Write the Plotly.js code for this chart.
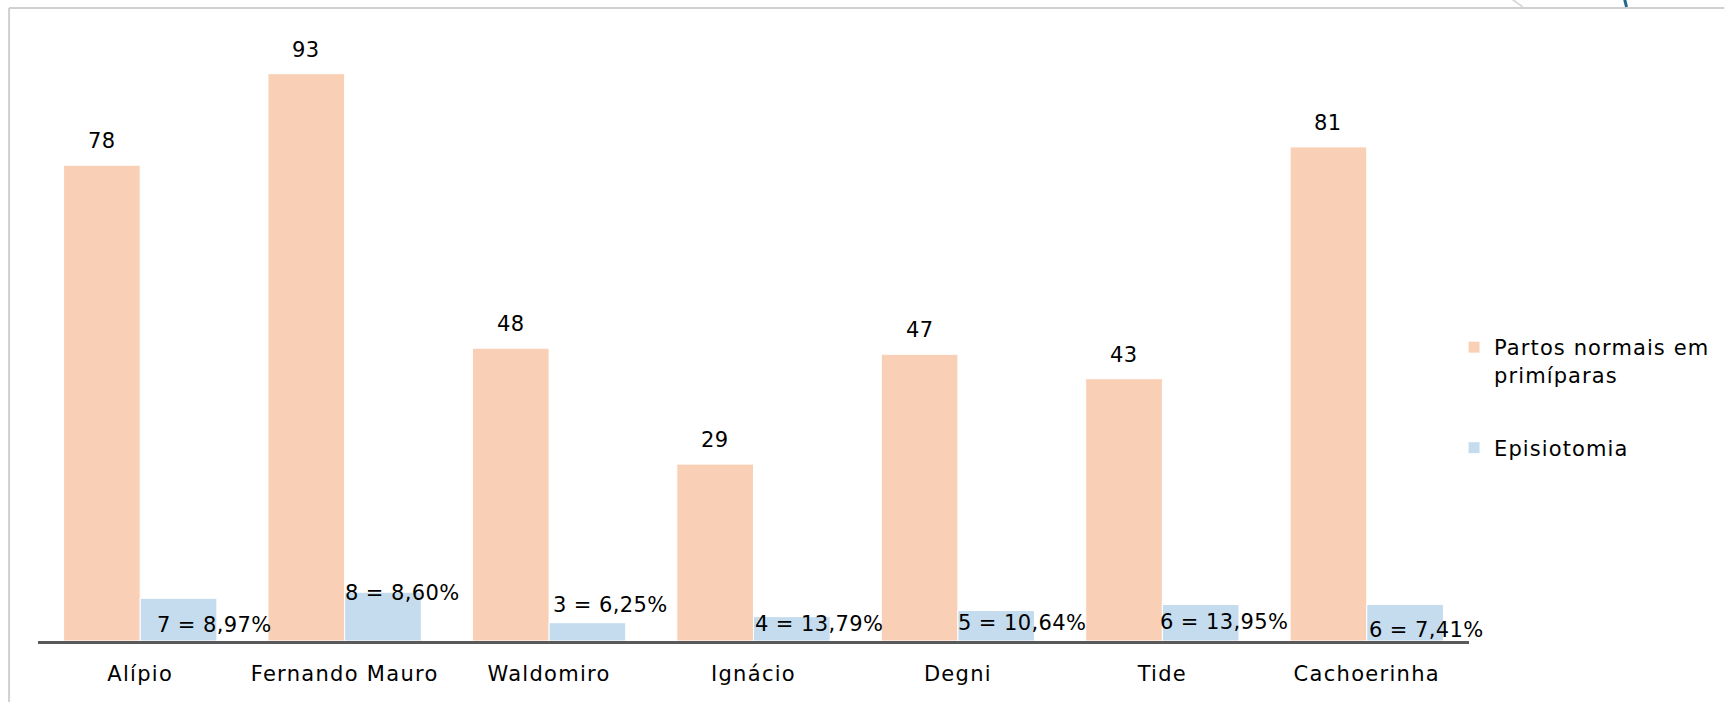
<!DOCTYPE html>
<html>
<head>
<meta charset="utf-8">
<script src="https://cdn.plot.ly/plotly-3.0.1.min.js"></script>
<style>
html,body{margin:0;padding:0;background:#fff;}
#chart{width:1727px;height:702px;}
.xtick text{letter-spacing:1.3px;}
text.legendtext{letter-spacing:1.1px;}
.annotation-text{letter-spacing:0.4px;}
</style>
</head>
<body>
<div id="chart"></div>
<script>
// ---- data ----
const categories = ['Alípio', 'Fernando Mauro', 'Waldomiro', 'Ignácio', 'Degni', 'Tide', 'Cachoerinha'];
const partosNormais = [78, 93, 48, 29, 47, 43, 81];
const episiotomia = [7, 8, 3, 4, 5, 6, 6];
const episiotomiaLabels = ['7 = 8,97%', '8 = 8,60%', '3 = 6,25%', '4 = 13,79%', '5 = 10,64%', '6 = 13,95%', '6 = 7,41%'];
const seriesNames = ['Partos normais em<br>primíparas', 'Episiotomia'];

// ---- label placement (style, px offsets from bar top / bar centre) ----
const blueLabelDx = [36, 20, 23, 27, 26, 23, 21];
const blueLabelDy = [-27, -1, 18, -7, -12, -18, -26];

const FONT = 'DejaVu Sans, Open Sans, sans-serif';
const FS = 21;
const ORANGE = '#F9D0B6';
const BLUE = '#C5DCEF';

// plot-area geometry (px) for converting decoration positions
const L = 38, R = 254, T = 31, B = 61, W = 1727, H = 702;
const pw = W - L - R, ph = H - T - B;
const px = v => (v - L) / pw;
const py = v => (H - B - v) / ph;

const traces = [
  {
    type: 'bar', name: seriesNames[0], x: categories, y: partosNormais,
    marker: {color: ORANGE, line: {color: '#ffffff', width: 1}},
    legendgroup: 'a', hoverinfo: 'x+y'
  },
  {
    type: 'bar', name: seriesNames[1], x: categories, y: episiotomia,
    marker: {color: BLUE, line: {color: '#ffffff', width: 1}},
    legendgroup: 'b', hoverinfo: 'x+y'
  }
];

const barOff = 0.1875; // half of one bar width in category units (bargap 0.25)
const annotations = [];
categories.forEach((c, i) => {
  annotations.push({
    xref: 'x', yref: 'y', x: i - barOff, y: partosNormais[i],
    text: String(partosNormais[i]), showarrow: false,
    yanchor: 'bottom', xanchor: 'center', yshift: 10,
    font: {family: FONT, size: FS, color: '#000'}
  });
  annotations.push({
    xref: 'x', yref: 'y', x: i + barOff, y: episiotomia[i],
    text: episiotomiaLabels[i], showarrow: false,
    yanchor: 'middle', xanchor: 'center',
    xshift: blueLabelDx[i], yshift: blueLabelDy[i],
    font: {family: FONT, size: FS, color: '#000'}
  });
});

const shapes = [
  // chart frame (left + top edges)
  {type: 'line', xref: 'paper', yref: 'paper', x0: px(9), x1: px(9), y0: py(8), y1: py(H + 2),
   line: {color: '#D0D0D0', width: 2}},
  {type: 'line', xref: 'paper', yref: 'paper', x0: px(9), x1: px(W + 2), y0: py(8), y1: py(8),
   line: {color: '#D0D0D0', width: 2}},
  // corner decoration
  {type: 'line', xref: 'paper', yref: 'paper', x0: px(1516), x1: px(1527), y0: py(-1), y1: py(7),
   line: {color: '#DADADA', width: 2}},
  {type: 'line', xref: 'paper', yref: 'paper', x0: px(1629), x1: px(1631), y0: py(-1), y1: py(7),
   line: {color: '#1F6A8A', width: 3}}
];

const layout = {
  width: W, height: H,
  margin: {l: L, r: R, t: T, b: B, pad: 0},
  paper_bgcolor: '#ffffff', plot_bgcolor: '#ffffff',
  barmode: 'group', bargap: 0.25, bargroupgap: 0,
  showlegend: true,
  legend: {
    x: px(1458), y: py(327), xanchor: 'left', yanchor: 'top',
    valign: 'top', traceorder: 'grouped', tracegroupgap: 43,
    font: {family: FONT, size: FS, color: '#000'},
    bgcolor: 'rgba(0,0,0,0)'
  },
  xaxis: {
    type: 'category', range: [-0.5, categories.length - 0.5], autorange: false,
    showline: true, linecolor: '#595959', linewidth: 3,
    ticks: '', showgrid: false, zeroline: false,
    tickfont: {family: FONT, size: FS, color: '#000'},
    ticklabelstandoff: 12,
    fixedrange: true
  },
  yaxis: {
    range: [0, 100], autorange: false, visible: false, showgrid: false, zeroline: false, fixedrange: true
  },
  annotations: annotations,
  shapes: shapes,
  font: {family: FONT}
};

Plotly.newPlot('chart', traces, layout, {displayModeBar: false, staticPlot: true});
</script>
</body>
</html>
